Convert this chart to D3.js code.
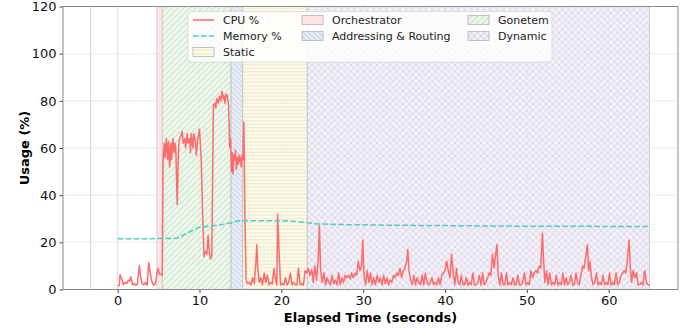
<!DOCTYPE html>
<html>
<head>
<meta charset="utf-8">
<script src="https://cdn.jsdelivr.net/npm/d3@7"></script>
<style>
  body { margin: 0; background: #fff; }
  svg { display: block; font-family: "DejaVu Sans", sans-serif; }
</style>
</head>
<body>
<div id="chart"></div>
<script>
// phases of the run (seconds)
const phaseNames = ['Orchestrator', 'Gonetem', 'Addressing & Routing', 'Static', 'Dynamic'];
const phaseStart = [4.8, 5.45, 13.85, 15.28, 23.17];
const phaseEnd = [5.45, 13.85, 15.28, 23.17, 65.0];

// [seconds, %]
const cpuUsage = [
  [0,1.5],[0.2,1.8],[0.3,6.4],[0.5,4.5],[0.7,2.0],[0.9,3.0],[1.1,2.5],[1.3,4.0],[1.45,3.5],[1.6,5.4],[1.8,2.0],[2.0,2.5],[2.2,1.8],[2.4,2.2],[2.65,10.2],[2.8,5.5],[3.0,2.5],[3.2,2.0],[3.4,3.0],[3.6,1.8],[3.8,11.4],[4.0,6.5],[4.2,3.0],[4.4,1.8],[4.6,2.5],[4.8,7.0],[4.95,9.0],[5.1,6.5],[5.3,6.5],[5.45,6.0],
  [5.55,54],[5.7,62],[5.8,56],[5.95,64],[6.1,55],[6.2,63],[6.35,52],[6.5,62],[6.6,55],[6.75,64],[6.9,58],[7.0,62],[7.1,60],[7.28,36],[7.4,55],[7.5,63],[7.7,65],[7.9,67],[8.0,62],[8.2,64],[8.3,60],[8.5,66],[8.6,62],[8.8,64],[8.9,58],[9.0,66],[9.2,60],[9.3,66],[9.5,63],[9.6,57],[9.8,64],[10.0,68],[10.2,56],[10.4,30],[10.55,14],[10.7,16],[10.9,15],[11.05,23],[11.2,16],[11.35,13],[11.5,14],
  [11.7,78],[11.85,79],[12.0,77],[12.1,81],[12.3,79],[12.45,82],[12.6,80],[12.75,84],[12.9,81],[13.0,82],[13.1,79],[13.25,83],[13.4,82],[13.55,78],[13.7,60],[13.8,64],[13.9,50],[14.0,58],[14.1,49],[14.2,57],[14.3,55],[14.4,59],[14.5,51],[14.6,56],[14.7,53],[14.8,57],[14.9,54],[15.0,56],[15.1,52],[15.2,57],[15.3,55],[15.42,71],[15.55,30],
  [15.7,4],[15.9,2.5],[16.1,3],[16.3,2],[16.5,5],[16.7,2.5],[16.9,12],[17.0,19],[17.1,10],[17.3,3],[17.5,5],[17.7,2],[17.9,7],[18.1,3],[18.3,6],[18.5,2],[18.7,3],[18.9,2.5],[19.1,9],[19.3,4],[19.45,2],[19.55,32],[19.7,18],[19.9,2],[20.1,2.5],[20.3,2],[20.5,5],[20.7,2],[20.9,3],[21.1,7],[21.3,2],[21.5,3],[21.7,2],[21.9,2],[22.1,9],[22.3,2],[22.5,2.5],[22.7,1.8],[22.9,8],
  [23.1,7],[23.3,9],[23.5,6],[23.7,8.5],[23.9,3],[24.1,10],[24.3,4],[24.5,12],[24.65,27],[24.8,8],[25.0,3],[25.2,7],[25.4,2],[25.6,5],[25.8,3],[26.0,2],[26.2,6],[26.4,2.5],[26.6,4],[26.8,2],[27.0,7],[27.2,2],[27.4,5],[27.6,3],[27.8,6],[28.0,5],[28.2,6],[28.4,4.5],[28.6,7],[28.8,5],[29.0,7],[29.2,6],[29.4,12],[29.6,8],[29.8,10],[29.95,21],[30.1,6],[30.3,2],[30.5,8],[30.7,3],[30.9,7],[31.1,2],[31.3,5],[31.5,2],[31.7,6],[31.9,3],[32.1,5],[32.3,2],[32.5,6],[32.7,2.5],[32.9,5],[33.1,2],[33.3,4],[33.5,3],[33.7,6],[33.9,5],[34.1,7],[34.3,6],[34.5,9],[34.7,5],[34.9,8],[35.1,9],[35.3,12],[35.45,17],[35.6,8],[35.8,4],
  [36.0,2],[36.2,6],[36.4,2],[36.6,5],[36.8,3],[37.0,2],[37.2,6],[37.4,2],[37.6,7],[37.8,3],[38.0,2],[38.2,3],[38.4,5],[38.6,2],[38.8,3],[39.0,2],[39.2,5],[39.4,2],[39.6,6],[39.8,7],[40.0,8],[40.2,12],[40.4,8],[40.6,5],[40.8,15],[41.0,7],[41.2,2],[41.4,9],[41.6,3],[41.8,2],[42.0,6],[42.2,2],[42.4,2],[42.6,5],[42.8,2],[43.0,3],[43.2,2],[43.4,7],[43.6,2],[43.8,2],[44.0,3],[44.2,6],[44.4,2],[44.6,7],[44.8,2],[45.0,3],[45.2,5],[45.4,7],[45.6,6],[45.8,15],[46.0,9],[46.15,14],[46.35,19],[46.5,6],[46.7,2],[46.9,7],[47.1,2],[47.3,2],[47.5,7],[47.7,2],[47.9,3],[48.1,2],[48.3,5],[48.5,2],[48.7,2],[48.9,6],[49.1,2],[49.3,2],[49.5,3],[49.7,7],[49.9,2],
  [50.1,3],[50.3,2],[50.5,8],[50.7,5],[50.9,7],[51.1,8],[51.3,7],[51.5,10],[51.7,9],[51.9,24],[52.05,12],[52.2,3],[52.4,8],[52.6,2],[52.8,7],[53.0,2],[53.2,3],[53.4,2],[53.6,6],[53.8,2],[54.0,3],[54.2,2],[54.4,7],[54.6,2],[54.8,5],[55.0,2],[55.2,3],[55.4,6],[55.6,2],[55.8,2],[56.0,7],[56.2,3],[56.4,2],[56.6,6],[56.8,10],[57.0,9],[57.2,14],[57.4,19],[57.55,8],[57.7,12],[57.9,5],[58.1,2],[58.3,3],[58.5,7],[58.7,2],[58.9,3],[59.1,2],[59.3,6],[59.5,2],[59.7,3],[59.9,2],[60.1,7],[60.3,2],[60.5,3],[60.7,2],[60.9,7],[61.1,2],[61.3,3],[61.5,6],[61.7,7],[61.9,8],[62.1,7],[62.3,13],[62.5,21],[62.65,9],[62.8,3],[63.0,8],[63.2,5],[63.4,7],[63.6,2],[63.8,2],[64.0,3],[64.2,2],[64.4,8],[64.6,3],[64.8,2],[65.0,1.8]
];

const memoryUsage = [
  [0,21.5],[5.5,21.6],[7.2,21.7],[8.0,23.0],[9.0,24.8],[9.9,26.3],[11.0,26.8],[12.5,27.4],[13.8,28.2],[14.6,29.0],[15.3,29.2],[20.0,29.2],[21.5,28.9],[22.5,28.6],[23.2,28.3],[24.5,27.8],[28.0,27.5],[32.0,27.3],[40.0,27.1],[46.0,26.9],[55.0,26.8],[65.0,26.7]
];

const xTicks = [0, 10, 20, 30, 40, 50, 60];
const yTicks = [0, 20, 40, 60, 80, 100, 120];
const xLimits = [-6.68, 68.47];
const yLimits = [0, 120];
const markerLines = [-3.3];

const width = 691, height = 328;
const margin = { top: 6.5, right: 13, bottom: 38.5, left: 63 };

const phaseStyle = {
  'Orchestrator':         { fill: '#fde2e3', hatch: null, size: 6, ink: 0.7, color: '#9a9a9a' },
  'Gonetem':              { fill: '#e6f7e6', hatch: '/', size: 6, ink: 0.7, color: '#9a9a9a' },
  'Addressing & Routing': { fill: '#e2ebf8', hatch: '\\', size: 5, ink: 0.7, color: '#9a9a9a' },
  'Static':               { fill: '#fefbe2', hatch: '-', size: 3.5, ink: 0.55, color: '#b0aea8' },
  'Dynamic':              { fill: '#f2eefa', hatch: 'x', size: 6.5, ink: 0.55, color: '#9a9a9a' }
};

const svg = d3.select('#chart').append('svg')
  .attr('width', width).attr('height', height);

const x = d3.scaleLinear().domain(xLimits).range([margin.left, width - margin.right]);
const y = d3.scaleLinear().domain(yLimits).range([height - margin.bottom, margin.top]);

// hatch patterns
const defs = svg.append('defs');
phaseNames.forEach((name, i) => {
  const st = phaseStyle[name];
  const s = st.size;
  const p = defs.append('pattern')
    .attr('id', 'hatch' + i)
    .attr('patternUnits', 'userSpaceOnUse')
    .attr('width', s).attr('height', s);
  p.append('rect').attr('width', s).attr('height', s).attr('fill', st.fill);
  const segs = [];
  if (st.hatch === '/' || st.hatch === 'x') {
    segs.push([0, s, s, 0], [-1, 1, 1, -1], [s - 1, s + 1, s + 1, s - 1]);
  }
  if (st.hatch === '\\' || st.hatch === 'x') {
    segs.push([0, 0, s, s], [-1, s - 1, 1, s + 1], [s - 1, -1, s + 1, 1]);
  }
  if (st.hatch === '-') {
    segs.push([0, s / 2, s, s / 2]);
  }
  p.selectAll('line').data(segs).join('line')
    .attr('x1', d => d[0]).attr('y1', d => d[1])
    .attr('x2', d => d[2]).attr('y2', d => d[3])
    .attr('stroke', st.color)
    .attr('stroke-opacity', st.ink)
    .attr('stroke-width', 0.6);
});

// grid
svg.append('g')
  .selectAll('line').data(yTicks).join('line')
  .attr('x1', margin.left).attr('x2', width - margin.right)
  .attr('y1', d => y(d)).attr('y2', d => y(d))
  .attr('stroke', '#e6e6e6').attr('stroke-width', 0.8);

svg.append('g')
  .selectAll('line').data(xTicks).join('line')
  .attr('x1', d => x(d)).attr('x2', d => x(d))
  .attr('y1', margin.top).attr('y2', height - margin.bottom)
  .attr('stroke', '#d6d6d6').attr('stroke-width', 0.8);

svg.append('g')
  .selectAll('line').data(markerLines).join('line')
  .attr('x1', d => x(d)).attr('x2', d => x(d))
  .attr('y1', margin.top).attr('y2', height - margin.bottom)
  .attr('stroke', '#d2d0c8').attr('stroke-width', 1);

// phase spans
svg.append('g')
  .selectAll('rect').data(phaseNames).join('rect')
  .attr('x', (d, i) => x(phaseStart[i]))
  .attr('width', (d, i) => x(phaseEnd[i]) - x(phaseStart[i]))
  .attr('y', y(yLimits[1]))
  .attr('height', y(yLimits[0]) - y(yLimits[1]))
  .attr('fill', (d, i) => `url(#hatch${i})`)
  .attr('fill-opacity', 0.88)
  .attr('stroke', '#b4b4b4')
  .attr('stroke-opacity', 0.7)
  .attr('stroke-width', 0.8);

// series
const line = d3.line().x(d => x(d[0])).y(d => y(d[1]));

svg.append('path')
  .datum(cpuUsage)
  .attr('d', line)
  .attr('fill', 'none')
  .attr('stroke', '#ff6b6b')
  .attr('stroke-width', 1.5)
  .attr('stroke-linejoin', 'round');

svg.append('path')
  .datum(memoryUsage)
  .attr('d', line)
  .attr('fill', 'none')
  .attr('stroke', '#4ecdc4')
  .attr('stroke-width', 1.5)
  .attr('stroke-dasharray', '5.5,2.5');

// axes
const xAxis = svg.append('g')
  .attr('transform', `translate(0,${height - margin.bottom})`)
  .call(d3.axisBottom(x).tickValues(xTicks).tickSize(3.5).tickPadding(3));
const yAxis = svg.append('g')
  .attr('transform', `translate(${margin.left},0)`)
  .call(d3.axisLeft(y).tickValues(yTicks).tickSize(3.5).tickPadding(3));

[xAxis, yAxis].forEach(g => {
  g.select('.domain').remove();
  g.selectAll('.tick line').attr('stroke', '#444');
  g.selectAll('.tick text')
    .attr('font-family', '"DejaVu Sans", sans-serif')
    .attr('font-size', 13)
    .attr('fill', '#111');
});

svg.append('rect')
  .attr('x', margin.left).attr('y', margin.top)
  .attr('width', width - margin.left - margin.right)
  .attr('height', height - margin.top - margin.bottom)
  .attr('fill', 'none')
  .attr('stroke', '#8a8a8a')
  .attr('stroke-width', 1);

svg.append('text')
  .attr('x', (margin.left + width - margin.right) / 2)
  .attr('y', height - 6)
  .attr('text-anchor', 'middle')
  .attr('font-size', 13)
  .attr('font-weight', 'bold')
  .text('Elapsed Time (seconds)');

svg.append('text')
  .attr('transform', `translate(29,${(margin.top + height - margin.bottom) / 2}) rotate(-90)`)
  .attr('text-anchor', 'middle')
  .attr('font-size', 13)
  .attr('font-weight', 'bold')
  .text('Usage (%)');

// legend
const legendItems = [
  { label: 'CPU %', kind: 'line' },
  { label: 'Memory %', kind: 'dash' },
  { label: 'Static', kind: 'patch', phase: 3 },
  { label: 'Orchestrator', kind: 'patch', phase: 0 },
  { label: 'Addressing & Routing', kind: 'patch', phase: 2 },
  { label: 'Gonetem', kind: 'patch', phase: 1 },
  { label: 'Dynamic', kind: 'patch', phase: 4 }
];
const legendCols = [193, 302, 468];
const legendRows = [20, 36, 52];
const perCol = [3, 2, 2];

const legend = svg.append('g');
legend.append('rect')
  .attr('x', 188).attr('y', 11.5)
  .attr('width', 364).attr('height', 50.5)
  .attr('rx', 3)
  .attr('fill', '#fff').attr('fill-opacity', 0.8)
  .attr('stroke', '#d8d8d8').attr('stroke-width', 0.8);

let idx = 0;
perCol.forEach((n, c) => {
  for (let r = 0; r < n; r++, idx++) {
    const it = legendItems[idx];
    const g = legend.append('g')
      .attr('transform', `translate(${legendCols[c]},${legendRows[r]})`);
    if (it.kind === 'patch') {
      g.append('rect')
        .attr('x', 0).attr('y', -4.5)
        .attr('width', 21).attr('height', 9)
        .attr('fill', `url(#hatch${it.phase})`)
        .attr('stroke', '#b4b4b4').attr('stroke-width', 0.8);
    } else {
      g.append('line')
        .attr('x1', 0).attr('x2', 21).attr('y1', 0).attr('y2', 0)
        .attr('stroke', it.kind === 'line' ? '#ff6b6b' : '#4ecdc4')
        .attr('stroke-width', 1.5)
        .attr('stroke-dasharray', it.kind === 'dash' ? '5.5,2.5' : null);
    }
    g.append('text')
      .attr('x', 30).attr('y', 0)
      .attr('dy', '0.35em')
      .attr('font-size', 11)
      .attr('fill', '#222')
      .text(it.label);
  }
});
</script>
</body>
</html>
